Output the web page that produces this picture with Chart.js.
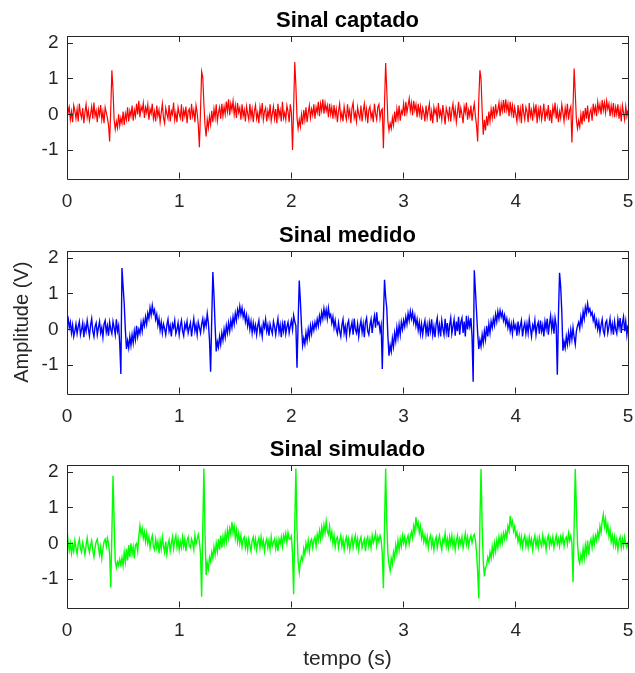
<!DOCTYPE html>
<html>
<head>
<meta charset="utf-8">
<title>Sinais ECG</title>
<script src="https://cdn.jsdelivr.net/npm/chart.js@4.4.1/dist/chart.umd.min.js"></script>
<style>
    body { margin: 0; background: #fff; }
    .wrap { position: relative; width: 635px; height: 673px; }
    canvas { position: absolute; left: 0; }
</style>
</head>
<body>
<div class="wrap">
    <canvas id="chartCaptado" width="635" height="215" style="top:0px"></canvas>
    <canvas id="chartMedido" width="635" height="215" style="top:215px"></canvas>
    <canvas id="chartSimulado" width="635" height="244" style="top:429px"></canvas>
</div>
<script>
// tempo entre amostras (s)
const sampleStep = 0.01;

const xTickValues = [0, 1, 2, 3, 4, 5];
const xTickLabels = ['0', '1', '2', '3', '4', '5'];
const yTickValues = [-1, 0, 1, 2];
const yTickLabels = ['-1', '0', '1', '2'];

const titles = ['Sinal captado', 'Sinal medido', 'Sinal simulado'];

// Sinal captado (V), uma amostra a cada 0.01 s
const sinalCaptado = [
    0.42, 0.05, 0.2, -0.15, 0.08, -0.22, 0.25, 0.1, -0.12, 0.15,
    -0.2, 0.3, 0.02, -0.1, 0.18, -0.25, 0.05, 0.28, -0.08, 0.12,
    -0.18, 0.0, 0.22, -0.12, 0.33, -0.05, 0.1, -0.22, 0.15, -0.02,
    0.26, -0.15, 0.08, -0.25, 0.2, 0.05, -0.1, -0.3, -0.76, 0.15,
    1.24, 0.7, -0.15, -0.42, -0.2, -0.38, 0.0, -0.32, -0.1, -0.25,
    0.08, -0.3, 0.02, -0.15, 0.2, -0.2, 0.1, -0.05, 0.25, -0.18,
    0.12, -0.05, 0.3, 0.0, 0.38, -0.08, 0.22, 0.1, 0.32, -0.1,
    0.2, 0.05, 0.28, -0.15, 0.15, 0.02, 0.3, -0.12, 0.08, -0.2,
    0.25, -0.05, 0.12, -0.22, 0.05, 0.3, -0.1, -0.25, 0.18, 0.02,
    -0.12, 0.26, -0.2, 0.1, 0.0, 0.33, -0.15, 0.05, -0.22, 0.2,
    0.02, -0.1, 0.28, -0.2, 0.12, -0.05, 0.22, -0.25, 0.08, 0.15,
    -0.15, 0.3, -0.05, 0.12, -0.22, 0.25, 0.05, -0.3, -0.92, 0.1,
    1.2, 1.05, 0.3, -0.3, -0.62, -0.15, -0.38, -0.05, -0.28, 0.1,
    -0.22, 0.15, -0.1, 0.28, -0.18, 0.05, 0.2, -0.12, 0.3, -0.05,
    0.22, 0.0, 0.36, 0.08, 0.42, -0.02, 0.3, 0.12, 0.38, 0.0,
    0.25, -0.1, 0.32, 0.05, 0.18, -0.15, 0.28, -0.05, 0.12, -0.2,
    0.22, 0.02, -0.15, 0.3, -0.08, 0.15, -0.22, 0.1, 0.26, -0.12,
    0.05, -0.25, 0.2, -0.02, 0.32, -0.15, 0.08, 0.18, -0.2, 0.1,
    -0.08, 0.28, -0.18, 0.02, 0.22, -0.12, 0.15, -0.25, 0.3, -0.05,
    0.12, -0.2, 0.35, -0.1, 0.05, -0.15, 0.25, 0.08, -0.22, 0.28,
    0.05, -1.0, 0.2, 1.47, 0.8, -0.1, -0.4, -0.15, -0.35, 0.0,
    -0.28, 0.12, -0.15, 0.2, -0.22, 0.05, 0.25, -0.1, 0.15, -0.02,
    0.28, -0.12, 0.2, 0.05, 0.35, -0.05, 0.3, 0.1, 0.42, 0.02,
    0.32, 0.1, 0.25, -0.08, 0.3, 0.0, 0.2, -0.12, 0.26, -0.05,
    0.15, -0.22, 0.1, 0.3, -0.12, 0.05, -0.2, 0.22, 0.0, -0.15,
    0.28, -0.05, 0.12, -0.25, 0.18, 0.33, -0.1, 0.05, -0.2, 0.2,
    0.0, -0.12, 0.25, -0.2, 0.1, 0.3, -0.08, 0.15, -0.25, 0.12,
    0.22, -0.1, 0.05, -0.22, 0.3, 0.02, -0.15, 0.2, 0.28, -0.12,
    0.1, 0.15, -0.95, 0.3, 1.44, 0.7, -0.2, -0.45, -0.25, -0.4,
    -0.1, -0.3, 0.08, -0.22, 0.15, -0.12, 0.25, -0.18, 0.1, 0.02,
    0.3, -0.05, 0.35, 0.05, 0.25, 0.45, 0.1, 0.32, -0.02, 0.38,
    0.12, 0.28, -0.08, 0.3, 0.0, 0.22, -0.15, 0.18, 0.05, -0.2,
    0.25, -0.1, 0.12, 0.3, -0.18, 0.08, -0.25, 0.2, 0.02, 0.15,
    -0.22, 0.32, -0.05, 0.1, -0.15, 0.26, 0.0, -0.28, 0.18, 0.05,
    -0.12, 0.22, -0.2, 0.1, 0.3, -0.08, 0.15, -0.22, 0.05, 0.35,
    -0.1, 0.18, 0.0, -0.25, 0.22, 0.05, 0.33, -0.15, 0.12, -0.05,
    0.25, -0.18, 0.1, 0.3, -0.05, -0.3, -0.76, 0.4, 1.24, 1.0,
    0.1, -0.57, -0.15, -0.45, -0.05, -0.32, 0.08, -0.2, 0.15, -0.1,
    0.22, -0.12, 0.28, 0.0, 0.12, 0.33, -0.05, 0.3, 0.1, 0.4,
    0.05, 0.42, 0.12, 0.3, -0.05, 0.35, 0.02, 0.25, -0.1, 0.2,
    0.0, -0.2, 0.26, -0.1, 0.15, -0.25, 0.3, 0.05, -0.15, 0.2,
    0.08, -0.22, 0.32, -0.05, 0.12, -0.18, 0.22, 0.0, 0.28, -0.25,
    0.15, -0.08, 0.25, -0.15, 0.05, 0.3, -0.2, 0.1, -0.05, 0.26,
    -0.18, 0.12, -0.25, 0.2, 0.02, 0.33, -0.12, 0.15, -0.22, 0.08,
    -0.1, 0.28, 0.05, -0.2, 0.18, -0.05, 0.3, -0.15, 0.12, 0.22,
    -0.79, 0.2, 1.29, 0.6, -0.15, -0.4, -0.18, -0.35, 0.0, -0.28,
    0.1, -0.2, 0.18, -0.12, 0.25, -0.22, 0.05, 0.15, -0.18, 0.3,
    0.05, 0.22, -0.05, 0.35, 0.1, 0.28, 0.0, 0.4, 0.12, 0.33,
    0.05, 0.38, 0.15, 0.3, -0.05, 0.25, 0.02, 0.32, -0.08, 0.2,
    0.0, 0.28, -0.12, 0.15, -0.2, 0.25, 0.05, -0.15, 0.22, -0.05, 0.12
];

// Sinal medido (V)
const sinalMedido = [
    0.25, 0.32, 0.05, 0.2, -0.1, 0.12, -0.2, -0.05, 0.15, -0.12,
    0.08, 0.22, -0.15, 0.0, 0.18, -0.22, 0.1, -0.05, 0.25, 0.02,
    -0.18, 0.12, 0.3, -0.05, -0.2, 0.08, 0.18, -0.15, 0.05, 0.22,
    -0.1, 0.05, -0.22, 0.15, 0.25, -0.08, 0.1, -0.18, 0.2, 0.0,
    -0.12, 0.22, 0.05, -0.15, 0.28, -0.05, 0.1, -0.4, -1.25, 1.72,
    1.2, 0.72, 0.0, -0.55, -0.32, -0.52, -0.2, -0.45, -0.15, -0.38,
    -0.05, -0.28, 0.1, -0.2, 0.0, -0.12, 0.18, -0.05, 0.25, 0.1,
    0.35, 0.15, 0.45, 0.3, 0.6, 0.4, 0.67, 0.45, 0.55, 0.28,
    0.42, 0.12, 0.3, -0.02, 0.2, -0.1, 0.15, 0.02, -0.15, 0.12,
    0.28, -0.05, 0.1, -0.2, 0.15, 0.05, 0.25, -0.12, 0.0, 0.18,
    -0.15, 0.1, 0.25, -0.05, -0.18, 0.15, 0.02, 0.22, -0.1, 0.05,
    0.18, -0.2, 0.08, 0.3, -0.05, 0.12, -0.15, 0.2, 0.05, -0.1,
    0.15, 0.3, 0.0, 0.25, 0.1, 0.44, 0.18, -0.3, -1.19, 0.3,
    1.61, 0.95, 0.1, -0.62, -0.35, -0.5, -0.2, -0.42, -0.1, -0.3,
    0.0, -0.22, 0.1, -0.1, 0.18, -0.05, 0.25, 0.05, 0.35, 0.15,
    0.45, 0.25, 0.55, 0.38, 0.65, 0.42, 0.6, 0.35, 0.5, 0.22,
    0.4, 0.1, 0.3, 0.0, 0.22, -0.1, 0.18, -0.05, 0.12, -0.15,
    0.1, 0.25, -0.1, 0.05, -0.2, 0.18, 0.05, 0.28, -0.05, 0.12,
    -0.18, 0.15, 0.0, -0.12, 0.22, 0.08, -0.15, 0.1, 0.3, -0.08,
    0.12, -0.22, 0.15, -0.05, 0.25, -0.12, 0.08, 0.2, -0.1, 0.1,
    0.25, 0.0, 0.39, 0.22, 0.1, -1.08, 0.2, 1.37, 0.8, 0.1,
    -0.45, -0.25, -0.42, -0.1, -0.32, 0.0, -0.22, 0.1, -0.12, 0.15,
    -0.02, 0.2, 0.05, 0.28, 0.1, 0.38, 0.2, 0.48, 0.3, 0.58,
    0.35, 0.55, 0.3, 0.6, 0.35, 0.42, 0.18, 0.35, 0.05, 0.25,
    0.0, -0.12, 0.18, -0.05, -0.2, 0.12, 0.28, -0.1, 0.08, -0.2,
    0.15, 0.25, -0.12, 0.05, 0.2, -0.15, 0.3, 0.0, -0.1, 0.15,
    -0.2, 0.08, 0.25, -0.08, 0.15, -0.22, 0.2, 0.32, -0.05, -0.15,
    0.12, 0.28, -0.1, 0.2, 0.38, 0.05, 0.48, 0.15, 0.2, -0.05,
    0.12, -1.11, 0.3, 1.39, 0.9, 0.6, -0.2, -0.74, -0.45, -0.62,
    -0.25, -0.48, -0.1, -0.32, 0.05, -0.22, 0.12, -0.15, 0.2, 0.0,
    0.25, 0.08, 0.35, 0.15, 0.45, 0.25, 0.51, 0.3, 0.48, 0.2,
    0.38, 0.1, 0.28, -0.02, 0.2, -0.12, 0.15, -0.15, 0.1, 0.25,
    -0.12, 0.12, -0.2, 0.18, -0.05, 0.28, -0.15, 0.08, -0.22, 0.15,
    0.32, -0.1, 0.12, -0.2, 0.25, 0.02, -0.15, 0.3, -0.08, 0.18,
    -0.22, 0.12, 0.32, -0.12, 0.08, 0.28, -0.18, 0.22, -0.05, 0.35,
    -0.15, 0.2, 0.32, -0.1, 0.22, -0.2, 0.38, 0.0, 0.28, 0.08,
    0.32, -0.2, -1.47, 1.66, 1.1, 0.5, -0.1, -0.55, -0.3, -0.48,
    -0.15, -0.38, -0.05, -0.28, 0.1, -0.2, 0.15, -0.1, 0.22, 0.05,
    0.3, 0.12, 0.42, 0.22, 0.5, 0.3, 0.53, 0.35, 0.48, 0.25,
    0.4, 0.15, 0.3, 0.05, 0.22, -0.05, 0.15, -0.12, 0.2, 0.02,
    0.12, -0.18, 0.22, -0.08, 0.1, 0.25, -0.2, 0.05, 0.18, -0.12,
    0.15, -0.1, 0.28, 0.02, -0.2, 0.12, 0.0, 0.25, -0.15, 0.1,
    0.2, -0.12, 0.25, -0.05, 0.12, -0.2, 0.22, 0.02, 0.3, -0.15,
    0.15, 0.38, 0.0, 0.25, -0.12, 0.32, 0.1, -1.27, 0.4, 1.59,
    1.2, 0.5, -0.6, -0.35, -0.52, -0.2, -0.42, -0.1, -0.35, -0.02,
    -0.28, 0.05, -0.22, -0.42, -0.05, 0.1, 0.2, 0.02, 0.35, 0.15,
    0.5, 0.3, 0.62, 0.45, 0.72, 0.5, 0.58, 0.4, 0.48, 0.25,
    0.38, 0.1, 0.25, 0.0, 0.2, -0.1, 0.12, 0.28, -0.05, -0.15,
    0.18, 0.25, -0.1, 0.08, 0.3, -0.05, 0.15, -0.15, 0.22, 0.0,
    -0.12, 0.28, 0.05, 0.32, -0.1, 0.18, 0.35, -0.05, 0.22, -0.15, 0.12
];

// Sinal simulado (V)
const sinalSimulado = [
    0.4, 0.05, -0.2, 0.0, -0.28, -0.05, -0.22, 0.08, -0.12, -0.3,
    -0.02, 0.12, -0.15, -0.25, 0.02, -0.12, -0.32, -0.05, 0.15, -0.1,
    -0.25, -0.05, 0.08, -0.2, -0.38, -0.12, 0.05, 0.12, -0.1, -0.32,
    -0.1, -0.42, -0.15, 0.05, 0.12, -0.08, 0.15, 0.0, -0.3, -1.24,
    0.3, 1.9, 0.6, -0.5, -0.68, -0.52, -0.62, -0.45, -0.6, -0.4,
    -0.62, -0.25, -0.52, -0.15, -0.48, -0.05, -0.38, 0.0, -0.3, -0.1,
    -0.42, -0.05, 0.0, -0.22, 0.2, 0.5, 0.25, 0.42, 0.15, 0.32,
    0.05, 0.28, 0.0, 0.18, -0.12, 0.1, 0.22, -0.1, -0.18, 0.12,
    -0.12, 0.05, -0.28, 0.08, -0.15, 0.18, -0.08, -0.25, 0.05, -0.3,
    -0.05, 0.1, -0.22, 0.0, 0.18, -0.15, 0.08, 0.22, -0.1, 0.12,
    -0.18, 0.05, -0.12, 0.18, -0.08, 0.12, -0.22, 0.08, 0.18, -0.08,
    -0.12, 0.12, 0.02, -0.18, 0.22, -0.02, 0.12, 0.25, 0.05, -0.3,
    -1.5, 0.4, 2.1, 0.3, -0.89, -0.55, -0.72, -0.4, -0.52, -0.25,
    -0.42, -0.1, -0.32, 0.0, -0.22, 0.12, -0.18, 0.22, -0.12, 0.18,
    -0.02, 0.28, 0.05, 0.38, 0.15, 0.42, 0.25, 0.6, 0.3, 0.48,
    0.15, 0.38, 0.05, 0.28, 0.0, 0.22, -0.1, 0.12, 0.18, -0.12,
    0.08, -0.18, 0.12, -0.05, -0.22, 0.08, 0.18, -0.08, 0.12, -0.18,
    0.02, 0.15, -0.12, 0.18, -0.08, 0.08, -0.22, 0.02, 0.12, -0.12,
    0.08, -0.18, 0.18, -0.08, 0.02, 0.12, -0.15, 0.08, -0.22, 0.12,
    -0.02, 0.18, -0.08, 0.22, 0.08, 0.28, 0.02, 0.3, 0.12, 0.12,
    0.2, -0.3, -1.43, 0.5, 2.1, 0.4, -0.5, -0.81, -0.52, -0.38,
    -0.48, -0.15, -0.32, 0.0, -0.18, 0.08, -0.22, 0.05, 0.12, -0.12,
    0.08, 0.18, -0.08, 0.25, 0.08, 0.35, 0.12, 0.45, 0.22, 0.52,
    0.3, 0.62, 0.35, 0.25, 0.48, 0.15, 0.32, 0.0, 0.22, -0.1,
    0.12, 0.18, -0.12, 0.08, 0.22, -0.08, 0.12, -0.18, 0.08, 0.18,
    -0.08, 0.12, -0.18, 0.02, 0.18, -0.12, 0.08, 0.22, -0.08, 0.12,
    -0.18, 0.08, 0.18, -0.12, 0.02, 0.12, -0.22, 0.08, 0.18, -0.08,
    0.12, -0.12, 0.22, 0.02, 0.12, 0.28, -0.05, 0.18, 0.05, 0.22,
    0.1, -0.3, -1.26, 0.5, 2.1, 0.6, -0.3, -0.6, -0.77, -0.42,
    -0.58, -0.25, -0.42, -0.05, -0.28, 0.08, -0.18, 0.12, -0.08, 0.22,
    0.02, 0.18, -0.08, 0.12, 0.22, -0.02, 0.18, 0.32, 0.15, 0.48,
    0.3, 0.74, 0.45, 0.58, 0.3, 0.48, 0.15, 0.32, 0.05, 0.22,
    -0.02, 0.18, -0.12, 0.12, 0.22, -0.08, 0.12, -0.18, 0.08, 0.18,
    -0.12, 0.08, 0.22, -0.02, -0.18, 0.12, 0.02, 0.28, -0.08, 0.12,
    -0.12, 0.18, -0.02, 0.22, -0.08, 0.12, -0.18, 0.08, 0.22, -0.08,
    0.12, -0.02, 0.18, -0.12, 0.08, 0.28, -0.02, 0.18, -0.08, 0.12,
    0.22, 0.02, 0.18, 0.25, 0.1, -0.25, -0.8, -1.55, 0.6, 2.09,
    0.5, -0.5, -0.93, -0.68, -0.62, -0.4, -0.52, -0.25, -0.42, -0.1,
    -0.32, 0.0, -0.22, 0.08, -0.12, 0.18, -0.02, 0.22, 0.02, 0.28,
    0.12, 0.32, 0.15, 0.48, 0.35, 0.77, 0.5, 0.62, 0.35, 0.48,
    0.2, 0.32, 0.05, 0.22, -0.05, 0.18, -0.1, 0.12, 0.22, -0.08,
    0.12, -0.12, 0.18, -0.02, 0.12, -0.18, 0.08, 0.22, -0.08, 0.12,
    -0.12, 0.18, 0.02, -0.08, 0.22, -0.02, 0.12, -0.18, 0.12, 0.22,
    -0.08, 0.12, -0.02, 0.18, -0.12, 0.08, 0.22, -0.02, 0.12, -0.08,
    0.18, 0.02, 0.22, -0.08, 0.12, 0.18, -0.02, 0.28, 0.08, 0.22,
    0.0, -1.09, 0.5, 2.09, 1.0, 0.0, -0.45, -0.56, -0.32, -0.48,
    -0.15, -0.42, -0.05, -0.28, 0.08, -0.32, 0.0, 0.12, -0.12, 0.18,
    -0.02, 0.22, 0.08, 0.32, 0.15, 0.48, 0.3, 0.62, 0.81, 0.48,
    0.68, 0.35, 0.52, 0.2, 0.38, 0.05, 0.22, -0.05, 0.18, -0.08,
    0.12, -0.18, 0.08, 0.18, -0.12, 0.12, -0.08, 0.18, -0.02, -0.12, 0.05
];

const fontFamily = "'Liberation Sans', Arial, Helvetica, sans-serif";
const axisColor = '#262626';

function toPoints(values) {
    return values.map((v, i) => ({ x: Math.round(i * sampleStep * 100) / 100, y: v }));
}

// caixa dos eixos com ticks para dentro (estilo MATLAB)
const axesBox = {
    id: 'axesBox',
    afterDraw(chart) {
        const { ctx, chartArea: a, scales } = chart;
        const px = v => Math.floor(v) + 0.5;
        const tick = 6;
        ctx.save();
        ctx.strokeStyle = axisColor;
        ctx.lineWidth = 1;
        ctx.beginPath();
        ctx.rect(px(a.left), px(a.top), Math.round(a.right - a.left), Math.round(a.bottom - a.top));
        scales.x.ticks.forEach(t => {
            const x = px(scales.x.getPixelForValue(t.value));
            ctx.moveTo(x, a.bottom); ctx.lineTo(x, a.bottom - tick);
            ctx.moveTo(x, a.top); ctx.lineTo(x, a.top + tick);
        });
        scales.y.ticks.forEach(t => {
            const y = px(scales.y.getPixelForValue(t.value));
            ctx.moveTo(a.left, y); ctx.lineTo(a.left + tick, y);
            ctx.moveTo(a.right, y); ctx.lineTo(a.right - tick, y);
        });
        ctx.stroke();
        ctx.restore();
    }
};

function makeChart(canvasId, title, values, color, opts) {
    const xAxisHeight = opts.xAxisHeight;
    return new Chart(document.getElementById(canvasId), {
        type: 'line',
        data: {
            datasets: [{
                data: toPoints(values),
                borderColor: color,
                borderWidth: opts.lineWidth,
                pointRadius: 0,
                tension: 0,
                fill: false
            }]
        },
        options: {
            responsive: false,
            animation: false,
            events: [],
            layout: { padding: { left: 0, right: 7, top: 0, bottom: 0 } },
            plugins: {
                legend: { display: false },
                tooltip: { enabled: false },
                title: {
                    display: true,
                    text: title,
                    fullSize: false,
                    color: '#000',
                    font: { family: fontFamily, size: 22, weight: 'bold' },
                    padding: { top: 7.8, bottom: 1.8 }
                }
            },
            scales: {
                x: {
                    type: 'linear',
                    min: 0,
                    max: 5,
                    afterBuildTicks: s => { s.ticks = xTickValues.map(v => ({ value: v })); },
                    afterFit: s => {
                        s.height = xAxisHeight;
                        s.paddingLeft = 0;
                        s.paddingRight = 0;
                    },
                    ticks: {
                        callback: (v, i) => xTickLabels[i],
                        color: axisColor,
                        font: { family: fontFamily, size: 19 },
                        padding: 11.5,
                        maxRotation: 0,
                        autoSkip: false
                    },
                    grid: { display: false, drawTicks: false },
                    border: { display: false },
                    title: opts.xTitle ? {
                        display: true,
                        text: opts.xTitle,
                        color: axisColor,
                        font: { family: fontFamily, size: 21 },
                        padding: { top: 0, bottom: 1.2 }
                    } : { display: false }
                },
                y: {
                    min: -1.8,
                    max: 2.2,
                    afterBuildTicks: s => { s.ticks = yTickValues.map(v => ({ value: v })); },
                    afterFit: s => {
                        s.width = 67;
                        s.paddingTop = 0;
                        s.paddingBottom = 0;
                    },
                    ticks: {
                        callback: (v, i) => yTickLabels[i],
                        color: axisColor,
                        font: { family: fontFamily, size: 19 },
                        padding: 8.5,
                        autoSkip: false
                    },
                    grid: { display: false, drawTicks: false },
                    border: { display: false },
                    title: opts.yTitle ? {
                        display: true,
                        text: opts.yTitle,
                        color: axisColor,
                        font: { family: fontFamily, size: 20 },
                        padding: { top: 10.7, bottom: 0 }
                    } : { display: false }
                }
            }
        },
        plugins: [axesBox]
    });
}

makeChart('chartCaptado', titles[0], sinalCaptado, '#ff0000', { xAxisHeight: 36.5, lineWidth: 1.2 });
makeChart('chartMedido', titles[1], sinalMedido, '#0000ff', { xAxisHeight: 36.5, lineWidth: 1.4, yTitle: 'Amplitude (V)' });
makeChart('chartSimulado', titles[2], sinalSimulado, '#00ff00', { xAxisHeight: 65.5, lineWidth: 1.4, xTitle: 'tempo (s)' });
</script>
</body>
</html>
